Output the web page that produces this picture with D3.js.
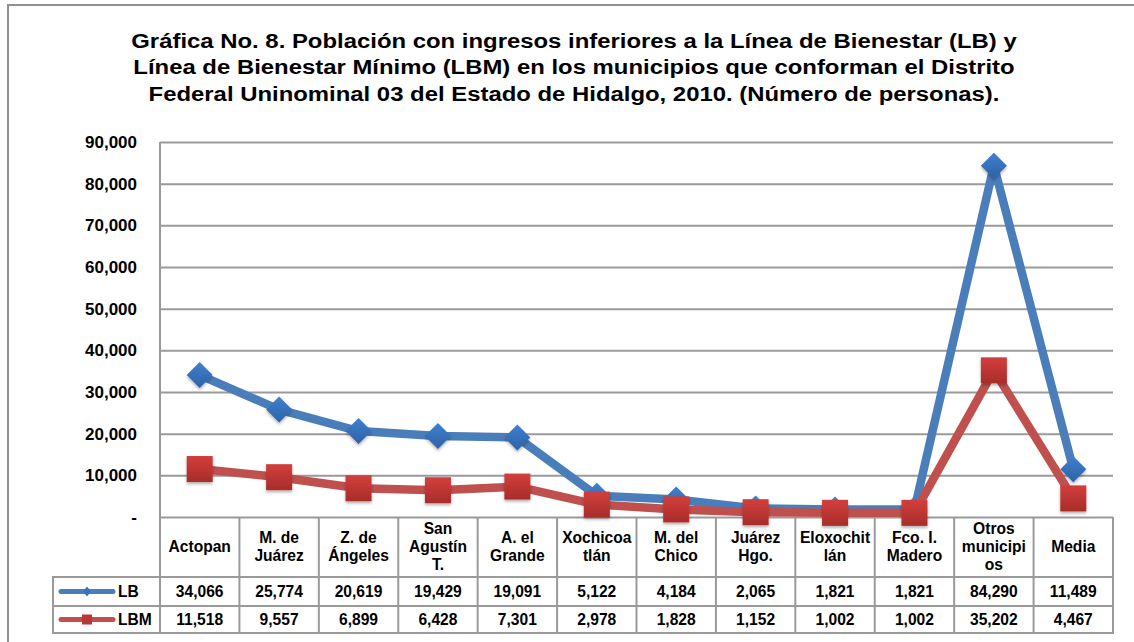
<!DOCTYPE html>
<html lang="es">
<head>
<meta charset="utf-8">
<title>Gráfica No. 8</title>
<script src="https://d3js.org/d3.v7.min.js"></script>
<style>
  body { margin: 0; background: #fff; }
  svg { display: block; background: #fff; font-family: "Liberation Sans", Arial, sans-serif; }
  .title { font-size: 21px; font-weight: bold; fill: #000; }
  .ylab text { font-size: 17px; font-weight: bold; fill: #000; font-family: "Liberation Sans", Arial, sans-serif; }
  .cell { font-size: 15.6px; font-weight: bold; fill: #000; }
</style>
</head>
<body>
<script>
// data
var categories = ["Actopan", "M. de Juárez", "Z. de Ángeles", "San Agustín T.", "A. el Grande",
  "Xochicoatlán", "M. del Chico", "Juárez Hgo.", "Eloxochitlán", "Fco. I. Madero",
  "Otros municipios", "Media"];
var categoryLines = [["Actopan"], ["M. de", "Juárez"], ["Z. de", "Ángeles"], ["San", "Agustín", "T."],
  ["A. el", "Grande"], ["Xochicoa", "tlán"], ["M. del", "Chico"], ["Juárez", "Hgo."],
  ["Eloxochit", "lán"], ["Fco. I.", "Madero"], ["Otros", "municipi", "os"], ["Media"]];
var lbValues  = [34066, 25774, 20619, 19429, 19091, 5122, 4184, 2065, 1821, 1821, 84290, 11489];
var lbmValues = [11518, 9557, 6899, 6428, 7301, 2978, 1828, 1152, 1002, 1002, 35202, 4467];
var yTicks = [0, 10000, 20000, 30000, 40000, 50000, 60000, 70000, 80000, 90000];
var titleLines = [
  "Gráfica No. 8. Población con ingresos inferiores a la Línea de Bienestar (LB) y",
  "Línea de Bienestar Mínimo (LBM) en los municipios que conforman el Distrito",
  "Federal Uninominal 03 del Estado de Hidalgo, 2010. (Número de personas)."
];

var series = [
  { name: "LB",  values: lbValues,  color: "#4a7ebb", shape: "diamond" },
  { name: "LBM", values: lbmValues, color: "#c0504d", shape: "square" }
];

var W = 1134, H = 642;
var plotLeft = 160, plotRight = 1113, plotTop = 142, plotBottom = 517;
var legendLeft = 53;
var headerBottom = 577, row1Bottom = 606, row2Bottom = 633;
var gridColor = "#9a9a9a";

var svg = d3.select("body").append("svg")
  .attr("width", W)
  .attr("height", H);

var defs = svg.append("defs");
var gb = defs.append("linearGradient").attr("id", "gBlue").attr("x1", 0).attr("y1", 0).attr("x2", 0).attr("y2", 1);
gb.append("stop").attr("offset", "0%").attr("stop-color", "#3f80cf");
gb.append("stop").attr("offset", "100%").attr("stop-color", "#2d62a6");
var gr = defs.append("linearGradient").attr("id", "gRed").attr("x1", 0).attr("y1", 0).attr("x2", 0).attr("y2", 1);
gr.append("stop").attr("offset", "0%").attr("stop-color", "#d23f3c");
gr.append("stop").attr("offset", "100%").attr("stop-color", "#a82c2a");
var sh = defs.append("filter").attr("id", "shadow").attr("x", "-30%").attr("y", "-30%").attr("width", "160%").attr("height", "170%");
sh.append("feDropShadow").attr("dx", 0).attr("dy", 2).attr("stdDeviation", 1.5)
  .attr("flood-color", "#000").attr("flood-opacity", 0.3);

// outer frame
svg.append("rect")
  .attr("x", 8).attr("y", 5)
  .attr("width", W + 20).attr("height", H + 20)
  .attr("fill", "none").attr("stroke", "#8f8f8f").attr("stroke-width", 2);

// title (stretched horizontally to the reference width)
var titleG = svg.append("g");
var titleTexts = titleG.selectAll("text")
  .data(titleLines)
  .enter().append("text")
  .attr("class", "title")
  .attr("x", 0)
  .attr("y", function(d, i) { return 48 + i * 26.5; })
  .attr("text-anchor", "middle")
  .text(function(d) { return d; });
var firstLen = titleTexts.node().getComputedTextLength();
var sx = firstLen > 0 ? 886 / firstLen : 1;
titleG.attr("transform", "translate(574,0) scale(" + sx + ",1)");

var x = d3.scaleBand().domain(categories).range([plotLeft, plotRight]);
var y = d3.scaleLinear().domain([0, 90000]).range([plotBottom, plotTop]);

// gridlines
svg.append("g")
  .attr("transform", "translate(" + plotLeft + ",0)")
  .call(d3.axisLeft(y).tickValues(yTicks).tickSize(-(plotRight - plotLeft)).tickFormat(""))
  .call(function(g) {
    g.select(".domain").remove();
    g.selectAll("line").attr("stroke", gridColor).attr("stroke-width", 2);
  });

// y axis line
svg.append("line")
  .attr("x1", plotLeft).attr("x2", plotLeft)
  .attr("y1", y(90000)).attr("y2", row2Bottom)
  .attr("stroke", gridColor).attr("stroke-width", 2);

// y labels
svg.append("g")
  .attr("class", "ylab")
  .attr("transform", "translate(137,0)")
  .call(d3.axisLeft(y).tickValues(yTicks).tickSize(0).tickPadding(0)
    .tickFormat(function(d) { return d === 0 ? "-" : d3.format(",")(d); }))
  .call(function(g) {
    g.select(".domain").remove();
    g.selectAll("text").attr("fill", "#000");
  });

// data table
var table = svg.append("g");
var bounds = categories.map(function(c) { return x(c); }).concat([plotRight]);
table.selectAll("line.v")
  .data(bounds.slice(1))
  .enter().append("line")
  .attr("x1", function(d) { return d; }).attr("x2", function(d) { return d; })
  .attr("y1", plotBottom).attr("y2", row2Bottom)
  .attr("stroke", gridColor).attr("stroke-width", 2);
table.append("line")
  .attr("x1", legendLeft).attr("x2", legendLeft)
  .attr("y1", headerBottom).attr("y2", row2Bottom)
  .attr("stroke", gridColor).attr("stroke-width", 2);
[headerBottom, row1Bottom, row2Bottom].forEach(function(yy) {
  table.append("line")
    .attr("x1", legendLeft - 1).attr("x2", plotRight + 1)
    .attr("y1", yy).attr("y2", yy)
    .attr("stroke", gridColor).attr("stroke-width", 2);
});

// header labels
var headers = table.selectAll("text.h")
  .data(categories)
  .enter().append("text")
  .attr("class", "cell")
  .attr("text-anchor", "middle");
headers.each(function(c, i) {
  var lines = categoryLines[i];
  var cx = x(c) + x.bandwidth() / 2;
  var cy = (plotBottom + headerBottom) / 2;
  var lh = 18;
  d3.select(this).selectAll("tspan")
    .data(lines)
    .enter().append("tspan")
    .attr("x", cx)
    .attr("y", function(d, j) { return cy + (j - (lines.length - 1) / 2) * lh + 5; })
    .text(function(d) { return d; });
});

// value rows
var rowMid = [(headerBottom + row1Bottom) / 2, (row1Bottom + row2Bottom) / 2];
series.forEach(function(s, si) {
  table.selectAll("text.r" + si)
    .data(s.values)
    .enter().append("text")
    .attr("class", "cell")
    .attr("text-anchor", "middle")
    .attr("x", function(d, i) { return x(categories[i]) + x.bandwidth() / 2; })
    .attr("y", rowMid[si] + 5)
    .text(function(d) { return d3.format(",")(d); });

  // legend key
  var ky = rowMid[si];
  table.append("line")
    .attr("x1", 61).attr("x2", 113)
    .attr("y1", ky).attr("y2", ky)
    .attr("stroke", s.color).attr("stroke-width", 5).attr("stroke-linecap", "round");
  if (s.shape === "diamond") {
    table.append("path")
      .attr("d", "M87," + (ky - 5) + "L91," + ky + "L87," + (ky + 5) + "L83," + ky + "Z")
      .attr("fill", "#3a72b8");
  } else {
    table.append("rect")
      .attr("x", 82).attr("y", ky - 5).attr("width", 10).attr("height", 10)
      .attr("fill", "#b8383a");
  }
  table.append("text")
    .attr("class", "cell")
    .attr("x", 118)
    .attr("y", ky + 5)
    .text(s.name);
});

// lines and markers
var line = d3.line()
  .x(function(d, i) { return x(categories[i]) + x.bandwidth() / 2; })
  .y(function(d) { return y(d); });

series.forEach(function(s) {
  var g = svg.append("g");
  g.append("path")
    .datum(s.values)
    .attr("d", line)
    .attr("fill", "none")
    .attr("stroke", s.color)
    .attr("stroke-width", 8.5)
    .attr("stroke-linejoin", "round");

  var m = g.selectAll(".m")
    .data(s.values)
    .enter().append("g")
    .attr("transform", function(d, i) {
      return "translate(" + (x(categories[i]) + x.bandwidth() / 2) + "," + y(d) + ")";
    })
    .attr("filter", "url(#shadow)");
  if (s.shape === "diamond") {
    m.append("path")
      .attr("d", "M0,-13L13,0L0,13L-13,0Z")
      .attr("fill", "url(#gBlue)");
  } else {
    m.append("rect")
      .attr("x", -13).attr("y", -13).attr("width", 26).attr("height", 26)
      .attr("fill", "url(#gRed)");
  }
});
</script>
</body>
</html>
